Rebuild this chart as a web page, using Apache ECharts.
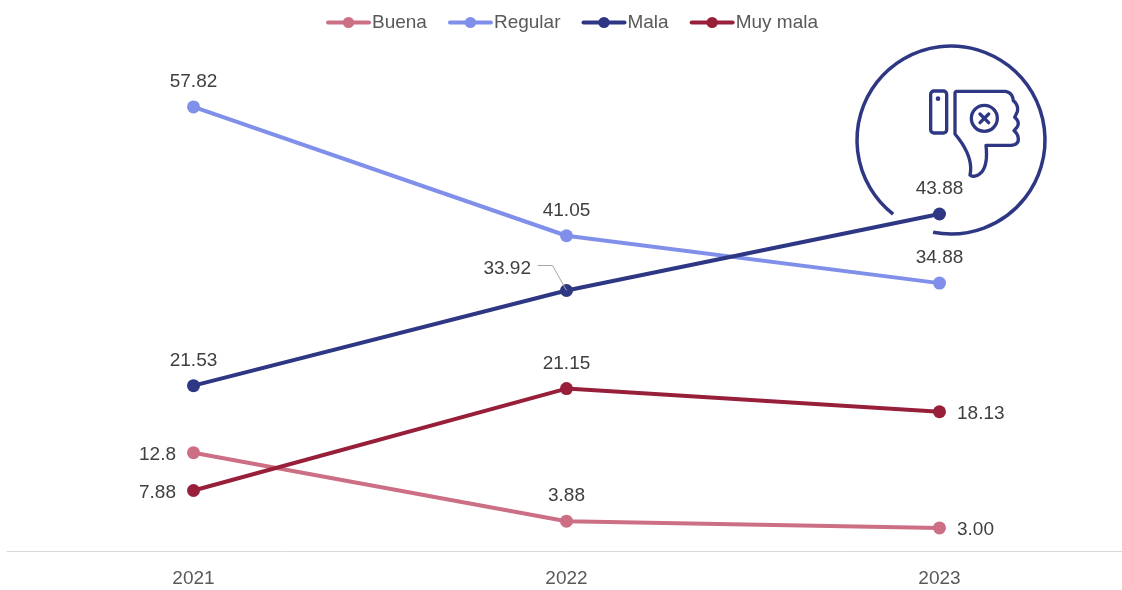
<!DOCTYPE html>
<html><head><meta charset="utf-8">
<style>html,body{margin:0;padding:0;background:#fff}#c{width:1122px;height:590px}</style>
<script src="https://cdn.jsdelivr.net/npm/echarts@6/dist/echarts.min.js"></script>
</head><body><div id="c"></div>
<script>
const categories = ['2021','2022','2023'];
const buena   = [12.8, 3.88, 3.00];
const regular = [57.82, 41.05, 34.88];
const mala    = [21.53, 33.92, 43.88];
const muyMala = [7.88, 21.15, 18.13];
const buenaLabels   = ['12.8','3.88','3.00'];
const regularLabels = ['57.82','41.05','34.88'];
const malaLabels    = ['21.53','33.92','43.88'];
const muyMalaLabels = ['7.88','21.15','18.13'];
const FONT = '"Liberation Sans",Arial,sans-serif';
const NAVY = '#2E3784';

function makeSeries(name, values, labels, color, places) {
  return {
    name, type: 'line', data: values.map((v, i) => ({
      value: v,
      label: {
        show: true, formatter: labels[i], position: places[i],
        distance: places[i] === 'top' ? 9 : 11,
        offset: places[i] === 'top' ? [0, 0] : [0, 2]
      }
    })),
    symbol: 'circle', symbolSize: 13,
    lineStyle: { color, width: 4, cap: 'round' }, itemStyle: { color },
    label: { color: '#404040', fontFamily: FONT, fontSize: 19 },
    emphasis: { disabled: true }, animation: false, z: 3
  };
}
// Thumb outline of the decorative icon: quadratic segments flattened to points.
const thumbSegments = [
  [[345,100],[345,94],[352,94]], [[352,94],[420,94],[490,94]], [[490,94],[517,94],[520,122]],
  [[520,122],[536,135],[532,155]], [[532,155],[526,168],[524,172]], [[524,172],[540,185],[532,200]],
  [[532,200],[526,208],[522,212]], [[522,212],[538,225],[534,245]], [[534,245],[528,256],[510,256]],
  [[510,256],[470,256],[438,256]], [[438,256],[446,330],[412,346]], [[412,346],[398,352],[390,345]],
  [[390,345],[402,290],[345,222]]
];
const thumbPoints = [];
thumbSegments.forEach(([a, c, b]) => {
  for (let k = 0; k <= 10; k++) {
    const t = k / 10, u = 1 - t;
    thumbPoints.push([u*u*a[0] + 2*u*t*c[0] + t*t*b[0], u*u*a[1] + 2*u*t*c[1] + t*t*b[1]]);
  }
});
const chart = echarts.init(document.getElementById('c'), null, { renderer: 'canvas' });
const malaSeries = makeSeries('Mala', mala, malaLabels, NAVY, ['top', 'left', 'top']);
malaSeries.data[1].label.offset = [-18, -22];
chart.setOption({
  animation: false,
  backgroundColor: '#fff',
  legend: {
    top: 13, left: 326, padding: 0, itemWidth: 41, itemHeight: 14, itemGap: 21,
    lineStyle: { width: 4, cap: 'round' },
    textStyle: { color: '#595959', fontFamily: FONT, fontSize: 19, padding: [0, 0, 0, -2] },
    data: ['Buena', 'Regular', 'Mala', 'Muy mala']
  },
  grid: { left: 7, width: 1119, top: 90.2, bottom: 39, outerBoundsMode: 'none' },
  xAxis: {
    type: 'category', data: categories, boundaryGap: true,
    axisLine: { lineStyle: { color: '#D9D9D9', width: 1 } }, axisTick: { show: false },
    axisLabel: { color: '#595959', fontFamily: FONT, fontSize: 19, margin: 18 }
  },
  yAxis: { type: 'value', min: 0, max: 60, show: false, splitLine: { show: false } },
  series: [
    makeSeries('Buena', buena, buenaLabels, '#CC6F84', ['left', 'top', 'right']),
    makeSeries('Regular', regular, regularLabels, '#7F8FEA', ['top', 'top', 'top']),
    malaSeries,
    makeSeries('Muy mala', muyMala, muyMalaLabels, '#981F3A', ['left', 'top', 'right'])
  ]
});
// Leader line for the moved 33.92 label, anchored on the point through the chart's own scales.
const anchor = chart.convertToPixel({ seriesIndex: 2 }, [1, mala[1]]);
chart.setOption({
  graphic: [
    { type: 'arc', x: 951, y: 140, z: 1,
      shape: { cx: 0, cy: 0, r: 94, startAngle: 128 * Math.PI / 180, endAngle: 101 * Math.PI / 180, clockwise: true },
      style: { fill: null, stroke: NAVY, lineWidth: 3.5 } },
    { type: 'group', x: 840, y: 60, scaleX: 1 / 3, scaleY: 1 / 3, z: 1, children: [
      { type: 'rect', shape: { x: 272, y: 93, width: 48, height: 126, r: 10 },
        style: { fill: null, stroke: NAVY, lineWidth: 10 } },
      { type: 'circle', shape: { cx: 294, cy: 116, r: 7 }, style: { fill: NAVY } },
      { type: 'polygon', shape: { points: thumbPoints },
        style: { fill: null, stroke: NAVY, lineWidth: 10, lineJoin: 'round' } },
      { type: 'circle', shape: { cx: 433, cy: 175, r: 39 }, style: { fill: null, stroke: NAVY, lineWidth: 10 } },
      { type: 'line', shape: { x1: 420, y1: 162, x2: 446, y2: 188 }, style: { stroke: NAVY, lineWidth: 10, lineCap: 'round' } },
      { type: 'line', shape: { x1: 446, y1: 162, x2: 420, y2: 188 }, style: { stroke: NAVY, lineWidth: 10, lineCap: 'round' } }
    ] },
    { type: 'polyline', z: 10,
      shape: { points: [[anchor[0] - 29, anchor[1] - 25], [anchor[0] - 14, anchor[1] - 25], anchor] },
      style: { fill: null, stroke: '#A6A6A6', lineWidth: 1 } }
  ]
});
</script></body></html>
